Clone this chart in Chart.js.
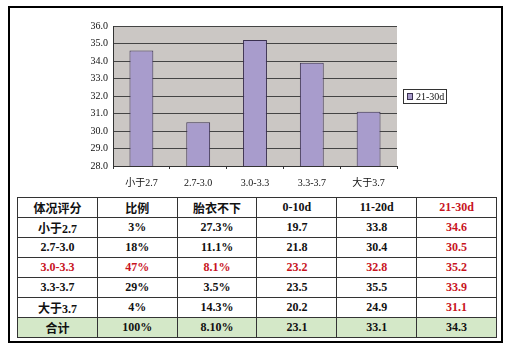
<!DOCTYPE html>
<html>
<head>
<meta charset="utf-8">
<script src="https://cdn.jsdelivr.net/npm/chart.js@4"></script>
<style>
  body { margin: 0; background: #fff; width: 514px; height: 359px; position: relative; overflow: hidden; }
  #frame { position: absolute; left: 8px; top: 6px; width: 495px; height: 337px; border: 2px solid #000; box-sizing: border-box; }
  #chartBox { position: absolute; left: 60px; top: 15px; width: 400px; height: 182px; }
  table { position: absolute; left: 17px; top: 197px; width: 480px; border-collapse: collapse; table-layout: fixed;
          font-family: "Liberation Serif", "Noto Sans CJK SC", serif; font-weight: bold; font-size: 12px; color: #111; }
  td { border: 1px solid #333; height: 19px; padding: 0; text-align: center; }
  .red { color: #c8141e; }
  tr.total td { background: #d4e8c8; }
</style>
</head>
<body>
<div id="frame"></div>
<div id="chartBox"><canvas id="c"></canvas></div>
<table id="tbl"><tbody id="tbody"></tbody></table>
<script>
const categories = ['小于2.7', '2.7-3.0', '3.0-3.3', '3.3-3.7', '大于3.7'];
const ratio = ['3%', '18%', '47%', '29%', '4%'];
const retained = ['27.3%', '11.1%', '8.1%', '3.5%', '14.3%'];
const d0to10 = [19.7, 21.8, 23.2, 23.5, 20.2];
const d11to20 = [33.8, 30.4, 32.8, 35.5, 24.9];
const d21to30 = [34.6, 30.5, 35.2, 33.9, 31.1];
const totals = ['合计', '100%', '8.10%', '23.1', '33.1', '34.3'];
const headers = ['体况评分', '比例', '胎衣不下', '0-10d', '11-20d', '21-30d'];
const highlightRow = 2;

// table under the chart
const tbody = document.getElementById('tbody');
let hr = tbody.insertRow();
headers.forEach((h, i) => {
    const cell = hr.insertCell();
    cell.textContent = h;
    if (i === 5) cell.className = 'red';
});
categories.forEach((cat, r) => {
    const row = tbody.insertRow();
    [cat, ratio[r], retained[r], d0to10[r].toFixed(1), d11to20[r].toFixed(1), d21to30[r].toFixed(1)].forEach((v, i) => {
        const cell = row.insertCell();
        cell.textContent = v;
        if (r === highlightRow || i === 5) cell.className = 'red';
    });
});
const tr = tbody.insertRow();
tr.className = 'total';
totals.forEach(v => { tr.insertCell().textContent = v; });

// gray plot background + legend box
const plotBg = {
    id: 'plotBg',
    beforeDraw(chart) {
        const { ctx, chartArea: a } = chart;
        ctx.save();
        ctx.fillStyle = '#cbc7c4';
        ctx.fillRect(a.left, a.top, a.right - a.left, a.bottom - a.top);
        ctx.restore();
    },
    afterDraw(chart) {
        const { ctx, chartArea: a } = chart;
        const ds = chart.data.datasets[0];
        const x = a.right + 6, y = 74, w = 43, h = 14;
        ctx.save();
        ctx.fillStyle = '#fff';
        ctx.fillRect(x, y, w, h);
        ctx.strokeStyle = '#333';
        ctx.lineWidth = 1;
        ctx.strokeRect(x + 0.5, y + 0.5, w, h);
        ctx.fillStyle = ds.backgroundColor;
        ctx.fillRect(x + 4, y + 4, 6, 7);
        ctx.strokeStyle = ds.borderColor;
        ctx.strokeRect(x + 4.5, y + 4.5, 5, 6);
        ctx.fillStyle = '#111';
        ctx.font = '10px "Liberation Serif", serif';
        ctx.textBaseline = 'middle';
        ctx.fillText(ds.label, x + 13, y + 8);
        ctx.restore();
    }
};

new Chart(document.getElementById('c'), {
    type: 'bar',
    data: {
        labels: categories,
        datasets: [{
            label: '21-30d',
            data: d21to30,
            backgroundColor: '#a89ccc',
            borderColor: '#3a3050',
            borderWidth: 1,
            barPercentage: 0.84,
            categoryPercentage: 0.5
        }]
    },
    options: {
        responsive: true,
        maintainAspectRatio: false,
        animation: false,
        layout: { padding: { top: 2, right: 63, bottom: 0, left: 0 } },
        plugins: { legend: { display: false }, tooltip: { enabled: false } },
        scales: {
            x: {
                border: { color: '#333', width: 1 },
                grid: { display: true, drawOnChartArea: false, offset: true, tickLength: 3, color: '#333' },
                ticks: { color: '#111', font: { family: '"Liberation Serif", "Noto Sans CJK SC", serif', size: 10 }, padding: 8 }
            },
            y: {
                min: 28,
                max: 36,
                afterFit(scale) { scale.width = 53; },
                border: { color: '#333', width: 1 },
                grid: { color: '#444', lineWidth: 1, drawTicks: false },
                ticks: {
                    stepSize: 1,
                    padding: 5,
                    color: '#111',
                    font: { family: '"Liberation Serif", serif', size: 10 },
                    callback: v => v.toFixed(1)
                }
            }
        }
    },
    plugins: [plotBg]
});
</script>
</body>
</html>
